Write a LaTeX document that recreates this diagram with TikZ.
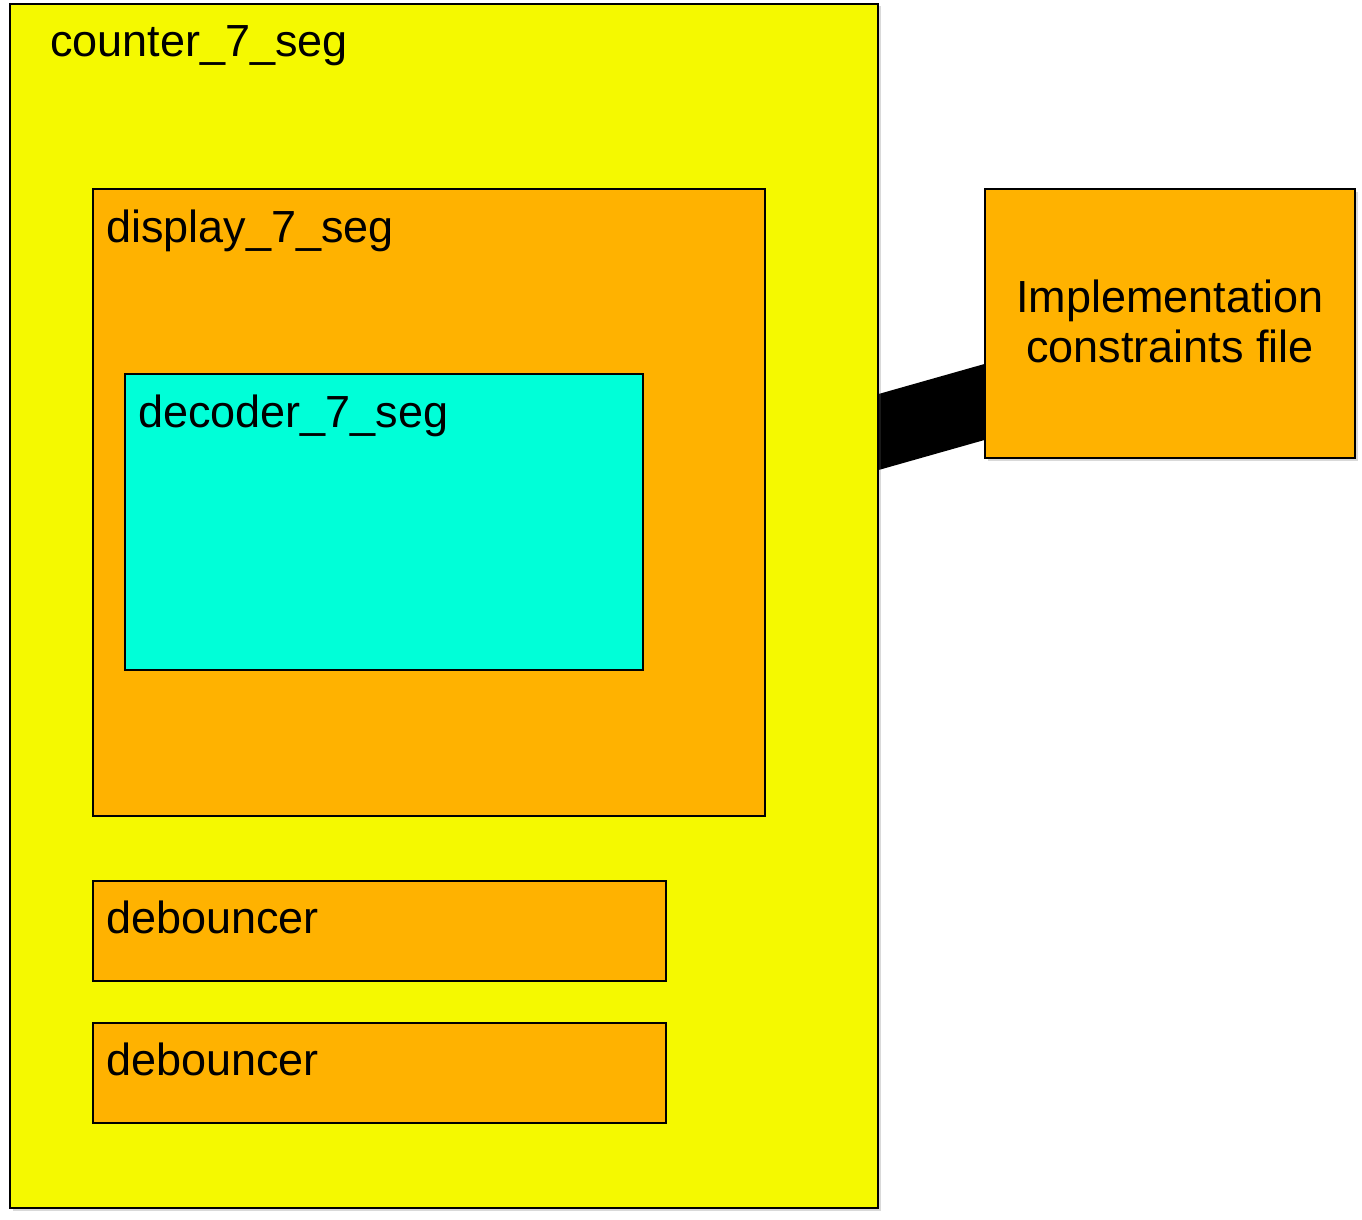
\documentclass[tikz,border=0pt]{standalone}
\usepackage{fontspec}
\setmainfont{Liberation Sans}
\usetikzlibrary{shadows,backgrounds,calc}
\definecolor{cyel}{RGB}{245,249,0}
\definecolor{corg}{RGB}{255,178,0}
\definecolor{ccyan}{RGB}{0,255,216}
\tikzset{
  blk/.style={draw=black, line width=2pt, inner sep=0pt, outer sep=0pt},
  shad/.style={drop shadow={shadow xshift=2.5pt, shadow yshift=-2.5pt, opacity=0.25, fill=black!60}},
  lbl/.style={anchor=base west, inner sep=0pt, font=\fontsize{45}{52}\selectfont},
}
\begin{document}
\begin{tikzpicture}[x=1pt,y=-1pt]
\useasboundingbox (0,0) rectangle (1362,1220);
% outer counter box
\draw[blk, fill=cyel, shad] (10,4) rectangle (878,1208);
\coordinate (cE) at (878,435);
\node[lbl] (lcounter) at (50,57) {counter\_7\_seg};
% display
\draw[blk, fill=corg] (93,189) rectangle (765,816);
\node[lbl] (ldisplay) at (106,242) {display\_7\_seg};
% decoder
\draw[blk, fill=ccyan] (125,374) rectangle (643,670);
\node[lbl] (ldecoder) at (138,427) {decoder\_7\_seg};
% debouncers
\draw[blk, fill=corg] (93,881) rectangle (666,981);
\node[lbl] (ldeb1) at (106,933) {debouncer};
\draw[blk, fill=corg] (93,1023) rectangle (666,1123);
\node[lbl] (ldeb2) at (106,1075) {debouncer};
% implementation constraints box
\node[blk, fill=corg, shad, minimum width=370pt, minimum height=269pt, anchor=north west] (impl) at (985,189) {};
\node[anchor=base, inner sep=0pt, font=\fontsize{45}{52}\selectfont] (limpl1) at (1170,312) {Implementation};
\node[anchor=base, inner sep=0pt, font=\fontsize{45}{52}\selectfont] (limpl2) at (1170,362) {constraints file};
\coordinate (iW) at (985,399);
% connector
\begin{scope}[on background layer]
\fill[black, rounded corners=8pt] ($(cE)+(-10,-38)$) -- ($(iW)+(10,-38)$) -- ($(iW)+(10,38)$) -- ($(cE)+(-10,38)$) -- cycle;
\end{scope}
\end{tikzpicture}
\end{document}
